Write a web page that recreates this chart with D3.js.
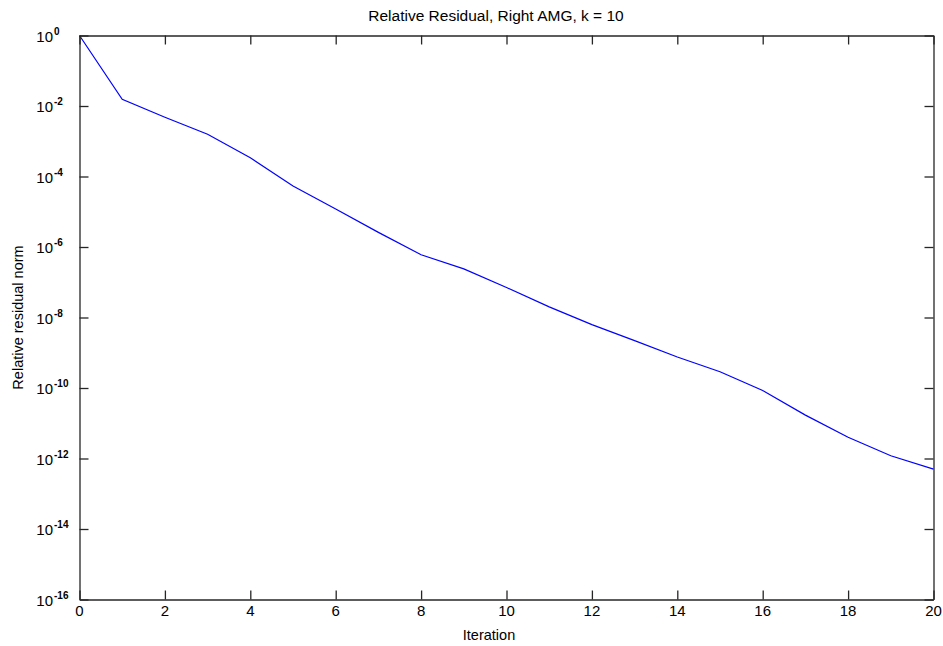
<!DOCTYPE html>
<html>
<head>
<meta charset="utf-8">
<script src="https://cdn.jsdelivr.net/npm/d3@7"></script>
<style>
  html, body { margin: 0; padding: 0; background: #fff; }
  svg { display: block; }
  text { font-family: "Liberation Sans", Arial, sans-serif; fill: #000; }
</style>
</head>
<body>
<svg id="chart" width="943" height="646"></svg>
<script>
// Relative residual per iteration
const iterations = [0, 1, 2, 3, 4, 5, 6, 7, 8, 9, 10, 11, 12, 13, 14, 15, 16, 17, 18, 19, 20];
const residuals = [1, 1.55e-2, 4.8e-3, 1.58e-3, 3.4e-4, 5.4e-5, 1.2e-5, 2.6e-6, 6.0e-7, 2.4e-7,
                   7.1e-8, 2.0e-8, 6.3e-9, 2.2e-9, 7.6e-10, 2.9e-10, 8.5e-11, 1.7e-11, 4.0e-12, 1.2e-12, 5.0e-13];

const xTicks = [0, 2, 4, 6, 8, 10, 12, 14, 16, 18, 20];
const yExponents = [0, -2, -4, -6, -8, -10, -12, -14, -16];

const titleText = "Relative Residual, Right AMG, k = 10";
const xLabelText = "Iteration";
const yLabelText = "Relative residual norm";

const svg = d3.select("#chart");
const plotLeft = 79.5, plotRight = 933.5, plotTop = 35.5, plotBottom = 599.5;
const tickLen = 9;

const x = d3.scaleLinear().domain([0, 20]).range([plotLeft, plotRight]);
const y = d3.scaleLog().domain([1e-16, 1]).range([plotBottom, plotTop]);
const yTicks = yExponents.map(e => Math.pow(10, e));

// data line (drawn first so the frame sits on top)
const line = d3.line().x((d, i) => x(iterations[i])).y(d => y(d));
svg.append("path")
  .datum(residuals)
  .attr("fill", "none")
  .attr("stroke", "#0000ff")
  .attr("stroke-width", 1.2)
  .attr("d", line);

function styleAxis(g) {
  g.selectAll(".domain").attr("stroke", "#262626").attr("stroke-width", 1.3);
  g.selectAll(".tick line").attr("stroke", "#262626").attr("stroke-width", 1.3);
  g.selectAll(".tick text").remove();
}

// box axes with inward ticks
svg.append("g").attr("transform", `translate(0,${plotBottom})`)
  .call(d3.axisBottom(x).tickValues(xTicks).tickSizeInner(-tickLen).tickSizeOuter(0))
  .call(styleAxis);
svg.append("g").attr("transform", `translate(0,${plotTop})`)
  .call(d3.axisTop(x).tickValues(xTicks).tickSizeInner(-tickLen).tickSizeOuter(0))
  .call(styleAxis);
svg.append("g").attr("transform", `translate(${plotLeft},0)`)
  .call(d3.axisLeft(y).tickValues(yTicks).tickSizeInner(-tickLen).tickSizeOuter(0))
  .call(styleAxis);
svg.append("g").attr("transform", `translate(${plotRight},0)`)
  .call(d3.axisRight(y).tickValues(yTicks).tickSizeInner(-tickLen).tickSizeOuter(0))
  .call(styleAxis);

// x tick labels
svg.append("g").selectAll("text")
  .data(xTicks).join("text")
  .attr("x", d => x(d))
  .attr("y", plotBottom + 16)
  .attr("text-anchor", "middle")
  .attr("font-size", 15)
  .text(d => d);

// y tick labels: base 10 with superscript exponent
const yl = svg.append("g").selectAll("g")
  .data(yExponents).join("g")
  .attr("transform", e => `translate(0,${y(Math.pow(10, e))})`);
yl.append("text")
  .attr("x", 53)
  .attr("y", 6)
  .attr("text-anchor", "end")
  .attr("font-size", 15)
  .text("10");
yl.append("text")
  .attr("x", 54)
  .attr("y", -1)
  .attr("font-size", 10)
  .attr("font-weight", "bold")
  .text(e => e === 0 ? "0" : "-" + Math.abs(e));

// title and axis labels
svg.append("text")
  .attr("x", 496)
  .attr("y", 21)
  .attr("text-anchor", "middle")
  .attr("font-size", 15.5)
  .text(titleText);
svg.append("text")
  .attr("x", 489)
  .attr("y", 640)
  .attr("text-anchor", "middle")
  .attr("font-size", 14.5)
  .text(xLabelText);
svg.append("text")
  .attr("transform", `translate(23,${(plotTop + plotBottom) / 2}) rotate(-90)`)
  .attr("text-anchor", "middle")
  .attr("font-size", 14.5)
  .text(yLabelText);
</script>
</body>
</html>
